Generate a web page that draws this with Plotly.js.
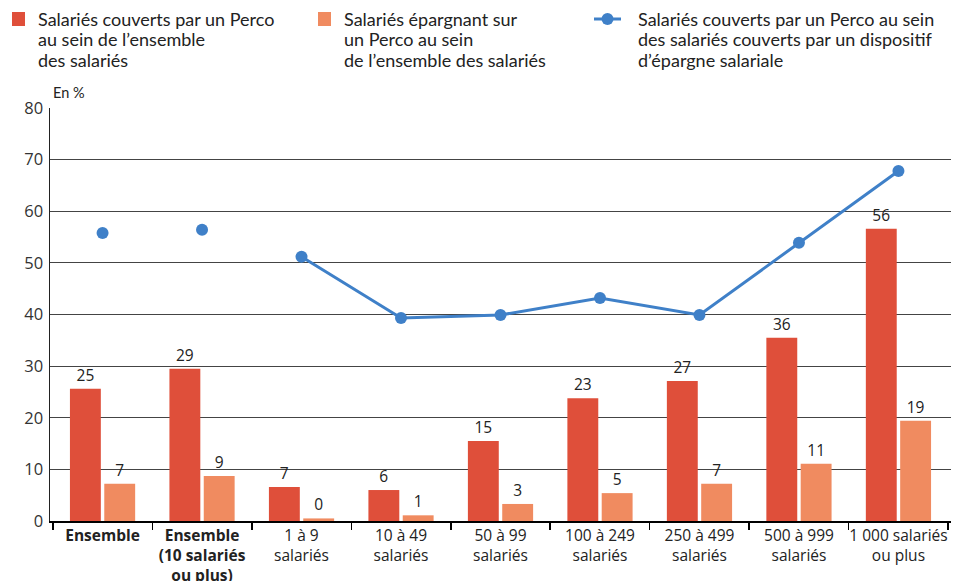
<!DOCTYPE html>
<html>
<head>
<meta charset="utf-8">
<script src="https://cdn.plot.ly/plotly-3.0.1.min.js"></script>
<style>html,body{margin:0;padding:0;background:#fff;}#chart{width:960px;height:581px;}</style>
</head>
<body>
<div id="chart"></div>
<script>
const categories = ["<b>Ensemble</b>", "<b>Ensemble<br>(10 salariés<br>ou plus)</b>", "1 à 9<br>salariés", "10 à 49<br>salariés", "50 à 99<br>salariés", "100 à 249<br>salariés", "250 à 499<br>salariés", "500 à 999<br>salariés", "1 000 salariés<br>ou plus"];
const couverts = [25.6, 29.5, 6.6, 6.0, 15.5, 23.8, 27.1, 35.5, 56.6];
const couvertsLabels = ["25", "29", "7", "6", "15", "23", "27", "36", "56"];
const epargnant = [7.2, 8.7, 0.5, 1.1, 3.3, 5.4, 7.2, 11.1, 19.4];
const epargnantLabels = ["7", "9", "0", "1", "3", "5", "7", "11", "19"];
const partDispositif = [55.8, 56.4, 51.2, 39.3, 39.9, 43.2, 39.9, 53.9, 67.8];
const yTicks = [0, 10, 20, 30, 40, 50, 60, 70, 80];
const legendLines = [
  ["Salariés couverts par un Perco", "au sein de l’ensemble", "des salariés"],
  ["Salariés épargnant sur", "un Perco au sein", "de l’ensemble des salariés"],
  ["Salariés couverts par un Perco au sein", "des salariés couverts par un dispositif", "d’épargne salariale"]
];

const red = "#df4f3a", orange = "#f08b60", blue = "#3f80c8";
const tickFam = "'Open Sans', sans-serif";
const legFam = "Lato, sans-serif";

const W = 960, H = 581, M = {l: 50, r: 9, t: 108, b: 60};
const pw = W - M.l - M.r, ph = H - M.t - M.b;
const px = x => (x - M.l) / pw;
const py = y => (H - M.b - y) / ph;

const traces = [
  {type: "bar", x: categories, y: couverts, name: legendLines[0].join(" "),
   marker: {color: red}, text: couvertsLabels, textposition: "outside", cliponaxis: false,
   textfont: {size: 15.5, color: "#222", family: tickFam}, hoverinfo: "skip"},
  {type: "bar", x: categories, y: epargnant, name: legendLines[1].join(" "),
   marker: {color: orange}, text: epargnantLabels, textposition: "outside", cliponaxis: false,
   textfont: {size: 15.5, color: "#222", family: tickFam}, hoverinfo: "skip"},
  {type: "scatter", mode: "lines+markers", x: categories.slice(2), y: partDispositif.slice(2),
   name: legendLines[2].join(" "), line: {color: blue, width: 3}, marker: {color: blue, size: 12}, cliponaxis: false},
  {type: "scatter", mode: "markers", x: categories.slice(0, 2), y: partDispositif.slice(0, 2),
   marker: {color: blue, size: 12}, cliponaxis: false}
];

const legendTextX = [36, 342, 636];
const lineY = [19, 39.5, 60];
const annotations = [];
legendLines.forEach((lines, i) => lines.forEach((t, j) => annotations.push({
  text: t, xref: "paper", yref: "paper", x: px(legendTextX[i]), y: py(lineY[j]), xanchor: "left", yanchor: "middle",
  align: "left", showarrow: false, font: {size: 18, color: "#222", family: legFam}
})));
annotations.push({text: "En %", xref: "paper", yref: "paper", x: px(51), y: py(103), xanchor: "left", yanchor: "bottom",
  showarrow: false, font: {size: 14.5, color: "#222", family: legFam}});

const shapes = [
  {type: "rect", xref: "paper", yref: "paper", x0: px(12), x1: px(25), y0: py(12), y1: py(26), fillcolor: red, line: {width: 0}},
  {type: "rect", xref: "paper", yref: "paper", x0: px(318), x1: px(331), y0: py(12), y1: py(26), fillcolor: orange, line: {width: 0}},
  {type: "line", xref: "paper", yref: "paper", x0: px(594), x1: px(621), y0: py(19), y1: py(19), line: {color: blue, width: 3}},
  {type: "circle", xref: "paper", yref: "paper", x0: px(601.5), x1: px(613.5), y0: py(13), y1: py(25), fillcolor: blue, line: {width: 0}}
];

const layout = {
  width: W, height: H, margin: M,
  paper_bgcolor: "#fff", plot_bgcolor: "#fff",
  font: {family: tickFam, size: 15, color: "#222"},
  barmode: "group", bargap: 0.31, bargroupgap: 0.1,
  showlegend: false,
  xaxis: {type: "category", showline: true, linecolor: "#000", linewidth: 1.5, automargin: false, tickangle: 0,
          ticks: "outside", tickson: "boundaries", ticklen: 7, tickcolor: "#000", tickwidth: 1.5,
          tickfont: {size: 15.5, color: "#222"}, showgrid: false, fixedrange: true},
  yaxis: {range: [0, 80], tickvals: yTicks, showline: true, linecolor: "#222", linewidth: 1.5, automargin: false,
          gridcolor: "#444", gridwidth: 1, zeroline: false, ticks: "", tickfont: {size: 16.5, color: "#333"},
          ticklabelstandoff: 2, fixedrange: true},
  annotations: annotations,
  shapes: shapes
};

Plotly.newPlot("chart", traces, layout, {displayModeBar: false, staticPlot: true});
</script>
</body>
</html>
